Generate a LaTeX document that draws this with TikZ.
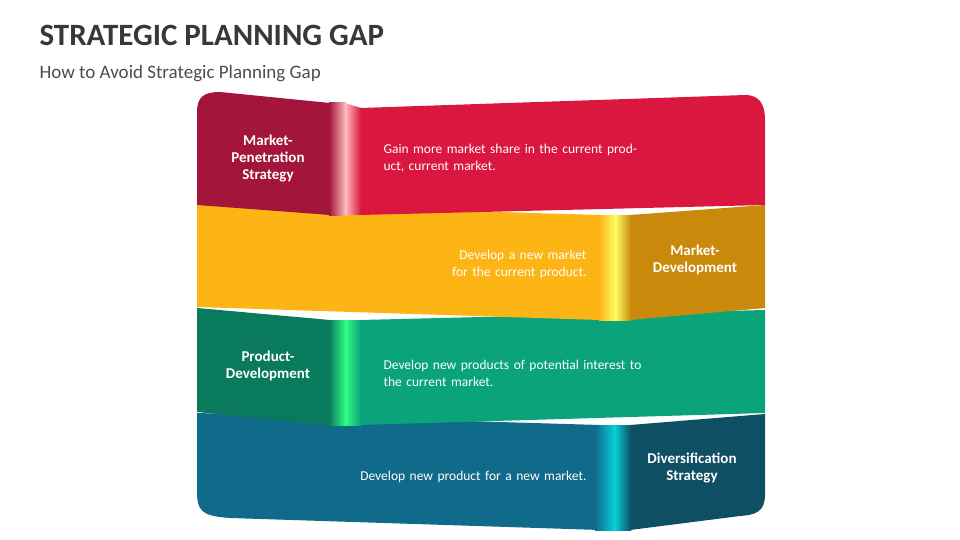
\documentclass[tikz,border=0pt]{standalone}
\usepackage{fontspec}
\setmainfont{Carlito}
\begin{document}
\begin{tikzpicture}[x=1pt,y=-1pt,
 lbl/.style={text=white,font=\bfseries\fontsize{15}{17}\selectfont,align=center},
 body/.style={text=white,font=\fontsize{13.5}{17}\selectfont,text width=260pt}]
\useasboundingbox (0,0) rectangle (960,540);
\definecolor{r1}{HTML}{D9173F}\definecolor{r2}{HTML}{A3153A}
\definecolor{y1}{HTML}{FDB515}\definecolor{y2}{HTML}{C98A0B}
\definecolor{g1}{HTML}{0BA37A}\definecolor{g2}{HTML}{0A7A5C}
\definecolor{b1}{HTML}{106B8A}\definecolor{b2}{HTML}{0F4F63}
% blue
\fill[b1] (197,413) -- (600,425) -- (600,530) -- (230,518) .. controls (200,516) and (197,510) .. (197,490) -- cycle;
\fill[b2] (630,425) -- (765,414) -- (765,495) .. controls (765,512) and (755,515) .. (740,516) -- (630,530) -- cycle;
\shade[left color=b1,right color=cyan!70!b1] (595,425) rectangle (615,530);
\shade[left color=cyan!70!b1,right color=b2] (614,425) -- (631,425) -- (631,530) -- (614,530) -- cycle;
% green
\fill[g2] (197,308) -- (330,320) -- (330,425) -- (197,412) -- cycle;
\fill[g1] (360,320) -- (765,310) -- (765,413) -- (360,425) -- cycle;
\shade[left color=g2,right color=green!60!cyan!80!white] (329,320) rectangle (346,425);
\shade[left color=green!60!cyan!80!white,right color=g1] (345,320) rectangle (361,425);
% yellow
\fill[y1] (197,203) -- (600,215) -- (600,320) -- (197,307) -- cycle;
\fill[y2] (630,215) -- (765,205) -- (765,308) -- (630,320) -- cycle;
\shade[left color=y1,right color=yellow!60!white] (599,215) rectangle (616,320);
\shade[left color=yellow!60!white,right color=y2] (615,215) rectangle (631,320);
% red
\fill[r2] (197,112) .. controls (197,96) and (205,92) .. (220,92) -- (330,103) -- (330,215) -- (197,205) -- cycle;
\fill[r1] (360,108) -- (745,95) .. controls (760,95) and (765,105) .. (765,120) -- (765,205) -- (360,215) -- cycle;
\shade[left color=r2,right color=pink] (329,103) rectangle (346,215);
\shade[left color=pink,right color=r1] (345,103) -- (361,108) -- (361,215) -- (345,215) -- cycle;
% texts
\node[anchor=west,font=\bfseries\fontsize{31}{34}\selectfont,text=black!78] (title) at (36,35) {STRATEGIC PLANNING GAP};
\node[anchor=west,font=\fontsize{19}{22}\selectfont,text=black!70] (sub) at (36,74) {How to Avoid Strategic Planning Gap};
\node[lbl] (l1) at (268,159) {Market-\\Penetration\\Strategy};
\node[body,anchor=west] (t1) at (380,158) {Gain more market share in the current product, current market.};
\node[lbl] (l2) at (695,260) {Market-\\Development};
\node[body,anchor=east,align=right] (t2) at (590,264) {Develop a new market for the current product.};
\node[lbl] (l3) at (268,366) {Product-\\Development};
\node[body,anchor=west] (t3) at (380,373) {Develop new products of potential interest to the current market.};
\node[lbl] (l4) at (692,468) {Diversification\\Strategy};
\node[body,anchor=east,align=right] (t4) at (590,477) {Develop new product for a new market.};
\end{tikzpicture}
\end{document}
